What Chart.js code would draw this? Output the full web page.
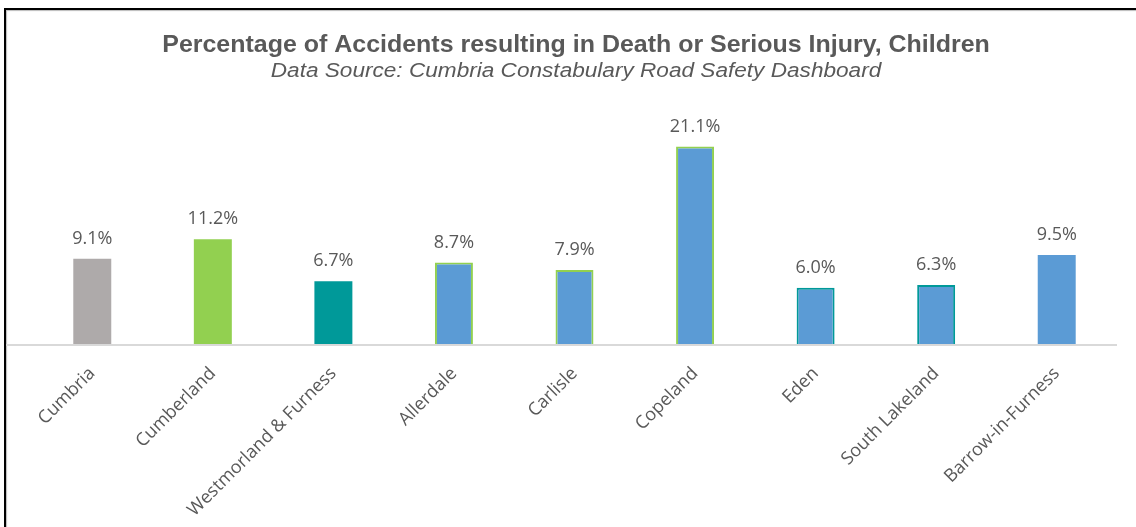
<!DOCTYPE html>
<html>
<head>
<meta charset="utf-8">
<script src="https://cdn.jsdelivr.net/npm/chart.js@4/dist/chart.umd.min.js"></script>
<style>
  html, body { margin: 0; padding: 0; background: #fff; }
  #wrap { position: relative; width: 1136px; height: 527px; overflow: hidden; }
  #frame { position: absolute; left: 4px; top: 8px; width: 1200px; height: 600px;
           border-top: 2px solid #000; border-left: 2px solid #000;
           box-shadow: inset 1px 1px 1px #bbb; }
  canvas { position: absolute; left: 0; top: 0; }
</style>
</head>
<body>
<div id="wrap">
  <div id="frame"></div>
  <canvas id="chart" width="1136" height="527"></canvas>
</div>
<script>
// data
var areas = ["Cumbria", "Cumberland", "Westmorland & Furness", "Allerdale", "Carlisle",
             "Copeland", "Eden", "South Lakeland", "Barrow-in-Furness"];
var pctValues = [9.1, 11.2, 6.7, 8.7, 7.9, 21.1, 6.0, 6.3, 9.5];

var chartTitle = "Percentage of Accidents resulting in Death or Serious Injury, Children";
var chartSubtitle = "Data Source: Cumbria Constabulary Road Safety Dashboard";

var grey = "#AEAAAA", green = "#92D050", teal = "#009999", blue = "#5B9BD5";
var fillColours = [grey, green, teal, blue, blue, blue, blue, blue, blue];
var edgeColours = [grey, green, teal, green, green, green, teal, teal, blue];
var edgeWidths  = [0, 0, 0, 2, 2, 2, 2, 2, 0];

var textGrey = "#595959";

// draws the (slightly widened) titles, the value labels and the axis line
var decorations = {
  id: "decorations",
  afterDatasetsDraw: function(chart) {
    var ctx = chart.ctx;
    var area = chart.chartArea;
    var midX = 576;

    ctx.save();
    ctx.fillStyle = textGrey;
    ctx.textAlign = "center";
    ctx.textBaseline = "alphabetic";

    // title
    ctx.save();
    ctx.translate(midX, 52);
    ctx.scale(1.04, 1);
    ctx.font = "bold 24px 'Liberation Sans', Arial";
    ctx.fillText(chartTitle, 0, 0);
    ctx.restore();

    // subtitle
    ctx.save();
    ctx.translate(midX, 77);
    ctx.scale(1.13, 1);
    ctx.font = "italic 20px 'Liberation Sans', Arial";
    ctx.fillText(chartSubtitle, 0, 0);
    ctx.restore();

    // axis line, running out to the frame
    ctx.strokeStyle = "#D9D9D9";
    ctx.lineWidth = 2;
    ctx.beginPath();
    ctx.moveTo(6, area.bottom + 1);
    ctx.lineTo(area.right, area.bottom + 1);
    ctx.stroke();

    // value labels
    var meta = chart.getDatasetMeta(0);
    ctx.font = "18px 'Open Sans'";
    meta.data.forEach(function(bar, i) {
      ctx.fillText(pctValues[i].toFixed(1) + "%", bar.x, bar.y - 15);
    });
    ctx.restore();
  }
};

new Chart(document.getElementById("chart"), {
  type: "bar",
  data: {
    labels: areas,
    datasets: [{
      data: pctValues,
      backgroundColor: fillColours,
      borderColor: edgeColours,
      borderWidth: edgeWidths,
      categoryPercentage: 1,
      barPercentage: 0.315
    }]
  },
  options: {
    responsive: false,
    animation: false,
    devicePixelRatio: 1,
    layout: { padding: { left: 32, right: 19, top: 110, bottom: 0 } },
    plugins: {
      legend: { display: false },
      tooltip: { enabled: false },
      title: { display: false },
      subtitle: { display: false }
    },
    scales: {
      x: {
        grid: { display: false, drawTicks: false },
        border: { display: false },
        ticks: {
          color: textGrey,
          font: { family: "'Open Sans'", size: 18 },
          maxRotation: 45,
          minRotation: 45,
          padding: 19
        },
        afterFit: function(scale) { scale.height = 183; }
      },
      y: {
        display: false,
        min: 0,
        max: 25
      }
    }
  },
  plugins: [decorations]
});
</script>
</body>
</html>
